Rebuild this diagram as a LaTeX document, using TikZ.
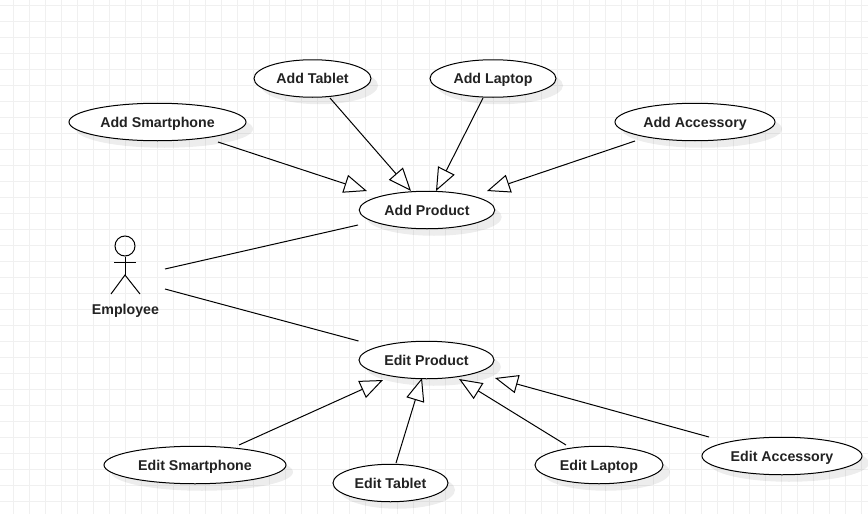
\documentclass[tikz,border=0pt]{standalone}
\usepackage{fontspec}
\setmainfont{Liberation Sans}
\usetikzlibrary{arrows.meta,shapes.geometric,shadows}
\definecolor{gridc}{HTML}{F0F0F0}
\definecolor{txt}{HTML}{222222}
\tikzset{
  usecase/.style n args={2}{ellipse,draw=black,line width=1pt,fill=white,inner sep=0pt,
    minimum width=#1pt,minimum height=#2pt,text=txt,font=\fontsize{14.2}{16}\selectfont\bfseries,
    text height=11.8pt,text depth=1pt,
    general shadow={fill=black,draw=none,opacity=0.07,shadow xshift=7pt,shadow yshift=-7pt}},
  gen/.style={line width=1pt,-{Triangle[open,fill=white,length=23pt,width=18.5pt,line width=1pt]}},
  assoc/.style={line width=1pt},
  stick/.style={line width=1pt},
  actorlabel/.style={text=txt,font=\fontsize{14.2}{16}\selectfont\bfseries,inner sep=0pt,text height=11.8pt,text depth=1pt}
}
\begin{document}
\begin{tikzpicture}[x=1pt,y=-1pt]
\useasboundingbox (0,0) rectangle (868,514);
\fill[white] (0,0) rectangle (868,514);
\foreach \i in {0,...,53} \draw[gridc,line width=1pt] (13+16*\i,0) -- (13+16*\i,514);
\foreach \j in {0,...,31} \draw[gridc,line width=1pt] (0,5+16*\j) -- (868,5+16*\j);

\node[usecase={177}{37.5}] (asmart) at (157.5,122) {Add Smartphone};
\node[usecase={117}{37.5}] (atab) at (312.5,78.5) {Add Tablet};
\node[usecase={126}{37.5}] (alap) at (493,78.5) {Add Laptop};
\node[usecase={160}{37.5}] (aacc) at (695,122) {Add Accessory};
\node[usecase={135.5}{37.5}] (aprod) at (427,210) {Add Product};
\node[usecase={135}{37.5}] (eprod) at (426.5,360) {Edit Product};
\node[usecase={182}{37.5}] (esmart) at (195,465) {Edit Smartphone};
\node[usecase={115}{37.5}] (etab) at (390.5,483) {Edit Tablet};
\node[usecase={128}{37.5}] (elap) at (599,465) {Edit Laptop};
\node[usecase={160}{37.5}] (eacc) at (782,456) {Edit Accessory};

\node[circle,draw=black,line width=1pt,minimum size=20pt,inner sep=0pt] (head) at (125,246) {};
\coordinate (hip) at (125,275);
\draw[stick] (head.south) -- (hip);
\draw[stick] ([shift={(-11,16)}]head.center) -- ([shift={(11,16)}]head.center);
\draw[stick] ([shift={(-14,19)}]hip) -- (hip) -- ([shift={(15,19)}]hip);
\node[actorlabel] (emp) at (125.5,309) {Employee};

\draw[assoc] ([shift={(40,23)}]head.center) -- ([shift={(-69,15)}]aprod.center);
\draw[assoc] ([shift={(40,43)}]head.center) -- ([shift={(-68,-19)}]eprod.center);

\draw[gen] ([shift={(60.5,20)}]asmart.center) -- ([shift={(-60,-19)}]aprod.center);
\draw[gen] ([shift={(17.5,19.5)}]atab.center) -- ([shift={(-16,-19)}]aprod.center);
\draw[gen] ([shift={(-10,19.5)}]alap.center) -- ([shift={(9,-19)}]aprod.center);
\draw[gen] ([shift={(-60,19)}]aacc.center) -- ([shift={(60,-19)}]aprod.center);

\draw[gen] ([shift={(44,-20)}]esmart.center) -- ([shift={(-43.5,20)}]eprod.center);
\draw[gen] ([shift={(5.5,-20)}]etab.center) -- ([shift={(-4.5,18)}]eprod.center);
\draw[gen] ([shift={(-33,-20)}]elap.center) -- ([shift={(32.5,19)}]eprod.center);
\draw[gen] ([shift={(-73,-19)}]eacc.center) -- ([shift={(68.5,18)}]eprod.center);
\end{tikzpicture}
\end{document}
